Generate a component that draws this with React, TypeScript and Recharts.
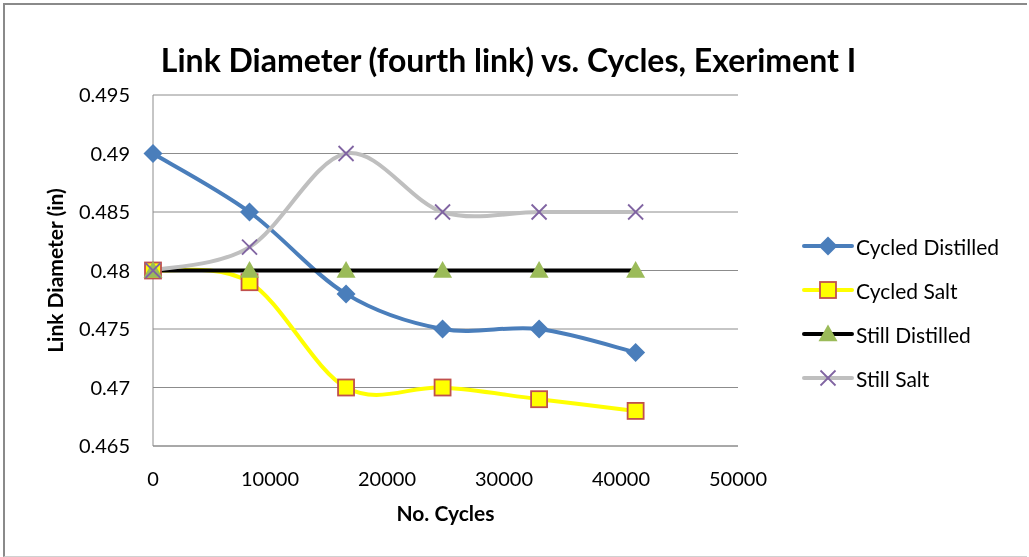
import React from "react";
import { LineChart, Line, XAxis, YAxis, CartesianGrid } from "recharts";

const cycles = [0, 8250, 16500, 24750, 33000, 41250];
const cycledDistilled = [0.49, 0.485, 0.478, 0.475, 0.475, 0.473];
const cycledSalt = [0.48, 0.479, 0.47, 0.47, 0.469, 0.468];
const stillDistilled = [0.48, 0.48, 0.48, 0.48, 0.48, 0.48];
const stillSalt = [0.48, 0.482, 0.49, 0.485, 0.485, 0.485];

const xTicks = [0, 10000, 20000, 30000, 40000, 50000];
const yTicks = [0.465, 0.47, 0.475, 0.48, 0.485, 0.49, 0.495];

const data = cycles.map((c, i) => ({
  cycles: c,
  cd: cycledDistilled[i],
  cs: cycledSalt[i],
  sd: stillDistilled[i],
  ss: stillSalt[i],
}));

const FONT = "Lato, 'Open Sans', sans-serif";
const BLUE = "#4A7EBB";
const YELLOW = "#FFFF00";
const GRAY = "#BFBFBF";
const RED = "#C0504D";
const GREEN = "#9BBB59";
const PURPLE = "#8064A2";

// Catmull-Rom style bezier smoothing, like spreadsheet "smoothed line"
function smoothCurve(context: any) {
  let pts: number[][] = [];
  return {
    areaStart() {},
    areaEnd() {},
    lineStart() {
      pts = [];
    },
    point(x: number, y: number) {
      pts.push([+x, +y]);
    },
    lineEnd() {
      if (!pts.length) return;
      context.moveTo(pts[0][0], pts[0][1]);
      for (let i = 0; i < pts.length - 1; i++) {
        const p0 = pts[i - 1] || pts[i];
        const p1 = pts[i];
        const p2 = pts[i + 1];
        const p3 = pts[i + 2] || p2;
        context.bezierCurveTo(
          p1[0] + (p2[0] - p0[0]) / 6,
          p1[1] + (p2[1] - p0[1]) / 6,
          p2[0] - (p3[0] - p1[0]) / 6,
          p2[1] - (p3[1] - p1[1]) / 6,
          p2[0],
          p2[1]
        );
      }
    },
  };
}

type Shape = "diamond" | "square" | "triangle" | "x";

function Marker({ shape, cx, cy }: { shape: Shape; cx: number; cy: number }) {
  if (shape === "diamond") {
    const r = 9.5;
    return (
      <polygon
        points={`${cx},${cy - r} ${cx + r},${cy} ${cx},${cy + r} ${cx - r},${cy}`}
        fill={BLUE}
      />
    );
  }
  if (shape === "square") {
    const r = 8;
    return (
      <rect x={cx - r} y={cy - r} width={2 * r} height={2 * r} fill={YELLOW} stroke={RED} strokeWidth={1.8} />
    );
  }
  if (shape === "triangle") {
    const r = 9.5;
    return (
      <polygon
        points={`${cx},${cy - r} ${cx + r},${cy + r * 0.75} ${cx - r},${cy + r * 0.75}`}
        fill={GREEN}
      />
    );
  }
  const r = 7.5;
  return (
    <g stroke={PURPLE} strokeWidth={1.8}>
      <line x1={cx - r} y1={cy - r} x2={cx + r} y2={cy + r} />
      <line x1={cx - r} y1={cy + r} x2={cx + r} y2={cy - r} />
    </g>
  );
}

const dot = (shape: Shape) => (p: any) =>
  <Marker key={`${shape}-${p.index}`} shape={shape} cx={p.cx} cy={p.cy} />;

const legendItems: { name: string; color: string; shape: Shape }[] = [
  { name: "Cycled Distilled", color: BLUE, shape: "diamond" },
  { name: "Cycled Salt", color: YELLOW, shape: "square" },
  { name: "Still Distilled", color: "#000000", shape: "triangle" },
  { name: "Still Salt", color: GRAY, shape: "x" },
];

function LegendBox() {
  return (
    <div style={{ position: "absolute", left: 802, top: 224, fontFamily: FONT, fontSize: 21, color: "#000" }}>
      {legendItems.map((it) => (
        <div key={it.name} style={{ display: "flex", alignItems: "center", height: 44 }}>
          <svg width={52} height={24}>
            <line x1={2} y1={12} x2={50} y2={12} stroke={it.color} strokeWidth={4} strokeLinecap="round" />
            <Marker shape={it.shape} cx={26} cy={12} />
          </svg>
          <span style={{ marginLeft: 2 }}>{it.name}</span>
        </div>
      ))}
    </div>
  );
}

export default function App() {
  return (
    <div style={{ position: "fixed", left: 0, top: 0, width: 1029, height: 557, background: "#fff" }}>
      <div
        style={{
          position: "absolute",
          left: 3,
          top: 3,
          width: 1022,
          height: 551,
          borderLeft: "2px solid #8a8a8a",
          borderTop: "2px solid #8a8a8a",
          borderBottom: "1px solid #d0d0d0",
        }}
      />
      <div
        style={{
          position: "absolute",
          left: 0,
          width: 1029,
          top: 40,
          textAlign: "center",
          fontFamily: FONT,
          fontWeight: 700,
          fontSize: 32,
          color: "#000",
          transform: "translateX(-6px)",
        }}
      >
        Link Diameter (fourth link) vs. Cycles, Exeriment I
      </div>
      <LineChart
        width={1029}
        height={557}
        data={data}
        margin={{ top: 95, right: 291, bottom: 0, left: 0 }}
        style={{ position: "absolute", left: 0, top: 0, fontFamily: FONT }}
      >
        <CartesianGrid vertical={false} stroke="#8c8c8c" strokeWidth={1} />
        <XAxis
          dataKey="cycles"
          type="number"
          domain={[0, 50000]}
          ticks={xTicks}
          interval={0}
          tickLine={false}
          axisLine={{ stroke: "#8c8c8c" }}
          tick={{ fill: "#000", fontSize: 20 }}
          tickMargin={20}
          height={111}
          label={{ value: "No. Cycles", position: "insideTop", offset: 60, fill: "#000", fontSize: 21, fontWeight: 700 }}
        />
        <YAxis
          type="number"
          domain={[0.465, 0.495]}
          ticks={yTicks}
          interval={0}
          tickLine={false}
          axisLine={{ stroke: "#8c8c8c" }}
          tick={{ fill: "#000", fontSize: 20 }}
          tickFormatter={(v: number) => String(+v.toFixed(3))}
          tickMargin={17}
          width={153}
          label={{ value: "Link Diameter (in)", angle: -90, position: "insideLeft", offset: 56, fill: "#000", fontSize: 21, fontWeight: 700, style: { textAnchor: "middle" } }}
        />
        <Line dataKey="cd" name="Cycled Distilled" type={smoothCurve as any} stroke={BLUE} strokeWidth={4} dot={dot("diamond")} activeDot={false} isAnimationActive={false} />
        <Line dataKey="cs" name="Cycled Salt" type={smoothCurve as any} stroke={YELLOW} strokeWidth={4} dot={dot("square")} activeDot={false} isAnimationActive={false} />
        <Line dataKey="sd" name="Still Distilled" type={smoothCurve as any} stroke="#000000" strokeWidth={4} dot={dot("triangle")} activeDot={false} isAnimationActive={false} />
        <Line dataKey="ss" name="Still Salt" type={smoothCurve as any} stroke={GRAY} strokeWidth={4} dot={dot("x")} activeDot={false} isAnimationActive={false} />
      </LineChart>
      <LegendBox />
    </div>
  );
}
